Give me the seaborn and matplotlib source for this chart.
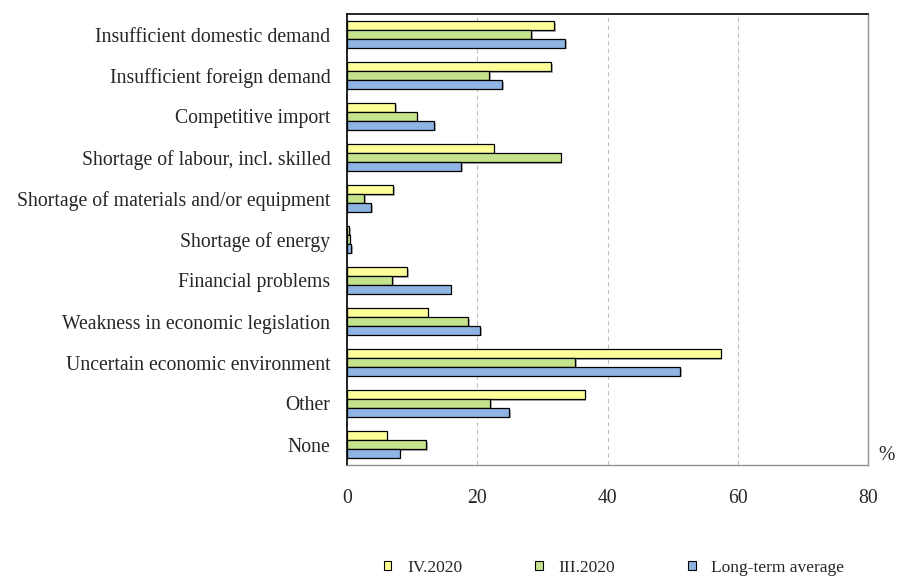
import matplotlib
matplotlib.use("Agg")
import matplotlib.pyplot as plt
import matplotlib.patheffects as pe
from matplotlib.patches import Patch
import seaborn as sns
import pandas as pd

categories = [
    "Insufficient domestic demand",
    "Insufficient foreign demand",
    "Competitive import",
    "Shortage of labour, incl. skilled",
    "Shortage of materials and/or equipment",
    "Shortage of energy",
    "Financial problems",
    "Weakness in economic legislation",
    "Uncertain economic environment",
    "Other",
    "None",
]
series_names = ["IV.2020", "III.2020", "Long-term average"]
iv_2020 = [31.8, 31.3, 7.4, 22.5, 7.1, 0.3, 9.2, 12.4, 57.4, 36.5, 6.1]
iii_2020 = [28.3, 21.8, 10.7, 32.8, 2.6, 0.4, 6.9, 18.6, 35.0, 22.0, 12.2]
long_term = [33.5, 23.8, 13.4, 17.5, 3.7, 0.6, 15.9, 20.4, 51.2, 24.9, 8.1]
x_ticks = [0, 20, 40, 60, 80]
colors = ["#FFFF99", "#C4E38C", "#8DB4E2"]

rows = []
for name, vals in zip(series_names, [iv_2020, iii_2020, long_term]):
    for cat, v in zip(categories, vals):
        rows.append({"category": cat, "series": name, "value": v})
df = pd.DataFrame(rows)

sns.set_style("white")
plt.rcParams["font.family"] = ["Liberation Serif", "DejaVu Serif"]

fig = plt.figure(figsize=(8.97, 5.77), dpi=100)
ax = fig.add_axes([347 / 897, 1 - 465 / 577, (868 - 347) / 897, (465 - 14) / 577])

sns.barplot(data=df, y="category", x="value", hue="series", order=categories,
            hue_order=series_names, palette=colors, width=0.64, orient="h",
            edgecolor="black", linewidth=0.9, saturation=1, legend=False, ax=ax)

shadow = [pe.SimplePatchShadow(offset=(1.2, -1.2), shadow_rgbFace="#808080", alpha=0.6),
          pe.Normal()]
for p in ax.patches:
    p.set_path_effects(shadow)

ax.set_xlim(0, 80)
ax.set_ylim(len(categories) - 0.5, -0.5)
ax.set_xticks(x_ticks)
ax.set_xticklabels([str(t) for t in x_ticks], fontsize=14.2)
ax.xaxis.grid(True, linestyle=(0, (4, 3)), color="#C0C0C0", linewidth=0.8)
ax.set_axisbelow(True)
ax.tick_params(axis="x", length=0, pad=17)

# category labels centred on each group, ticks on the group boundaries
ax.set_yticks(range(len(categories)))
ax.set_yticklabels(categories, fontsize=14.2)
ax.tick_params(axis="y", which="major", length=0, pad=12)
ax.set_yticks([i - 0.5 for i in range(len(categories) + 1)], minor=True)
ax.tick_params(axis="y", which="minor", length=5, width=1, color="black", direction="out")
ax.set_xlabel("")
ax.set_ylabel("")

for side in ["left", "top"]:
    ax.spines[side].set_color("black")
    ax.spines[side].set_linewidth(1.2)
for side in ["right", "bottom"]:
    ax.spines[side].set_color("#909090")
    ax.spines[side].set_linewidth(1.0)

fig.text(887 / 897, 1 - 455 / 577, "%", fontsize=14.2, ha="center", va="center")

handles = [Patch(facecolor=c, edgecolor="black", linewidth=0.8) for c in colors]
fig.legend(handles, series_names, loc="center", bbox_to_anchor=(614 / 897, 1 - 568 / 577),
           ncol=3, frameon=False, fontsize=12.5, handlelength=0.45, handleheight=0.45,
           columnspacing=4.2, handletextpad=0.9, borderpad=0, borderaxespad=0)

fig.savefig("out.png", dpi=100)
